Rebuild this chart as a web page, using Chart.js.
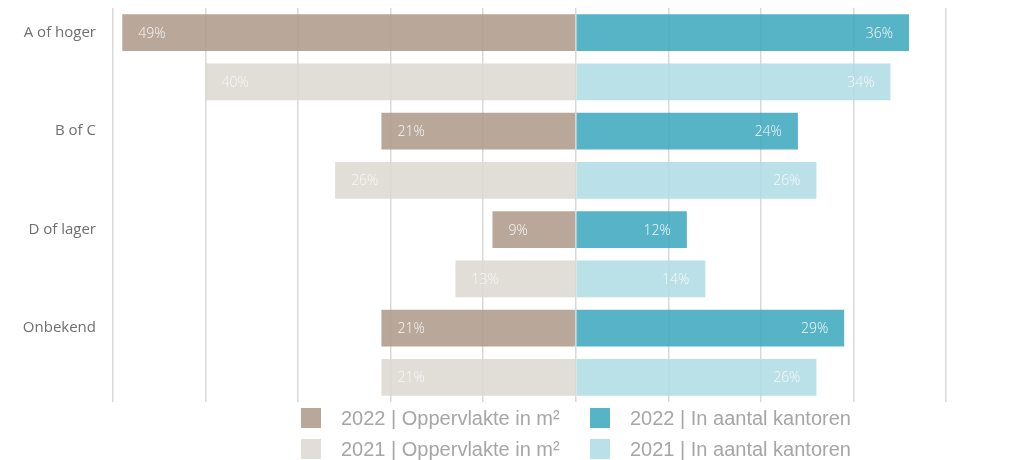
<!DOCTYPE html>
<html>
<head>
<meta charset="utf-8">
<script src="https://cdn.jsdelivr.net/npm/chart.js@4.4.0/dist/chart.umd.min.js"></script>
<style>
  html, body { margin: 0; padding: 0; background: #ffffff; }
  #wrap { position: relative; width: 1036px; height: 460px; overflow: hidden; }
  canvas { position: absolute; left: 0; top: 0; }
  .lg { position: absolute; font-family: "Liberation Sans", Arial, sans-serif; font-size: 20px; color: #a6a6a6; white-space: nowrap; line-height: 20px; }
  .bx { position: absolute; width: 20px; height: 20px; }
</style>
</head>
<body>
<div id="wrap">
  <canvas id="c" width="1036" height="460"></canvas>
  <div id="legend"></div>
</div>
<script>
// ---- data ----
const categories = ["A of hoger", "B of C", "D of lager", "Onbekend"];
const opp2022 = [49, 21, 9, 21];      // Oppervlakte in m² (%), 2022
const opp2021 = [40, 26, 13, 21];     // Oppervlakte in m² (%), 2021
const kant2022 = [36, 24, 12, 29];    // In aantal kantoren (%), 2022
const kant2021 = [34, 26, 14, 26];    // In aantal kantoren (%), 2021
const seriesNames = ["2022 | Oppervlakte in m²", "2022 | In aantal kantoren", "2021 | Oppervlakte in m²", "2021 | In aantal kantoren"];
const xTicks = [-50, -40, -30, -20, -10, 0, 10, 20, 30, 40];

const barColors = ["rgba(173,153,135,0.85)", "rgba(57,167,189,0.85)", "rgba(220,215,208,0.85)", "rgba(174,220,228,0.85)"];
const legendColors = ["#b9a899", "#57b4c7", "#e1ddd7", "#bae1e8"];

// rows: each category gets a 2022 row followed by a 2021 row
const rowLabels = [];
categories.forEach(c => { rowLabels.push(c); rowLabels.push(""); });
function rows(values, year, sign) {
  const out = [];
  values.forEach(v => {
    out.push(year === 2022 ? sign * v : null);
    out.push(year === 2021 ? sign * v : null);
  });
  return out;
}

const datasets = [
  { label: seriesNames[0], data: rows(opp2022, 2022, -1), backgroundColor: barColors[0] },
  { label: seriesNames[1], data: rows(kant2022, 2022, 1), backgroundColor: barColors[1] },
  { label: seriesNames[2], data: rows(opp2021, 2021, -1), backgroundColor: barColors[2] },
  { label: seriesNames[3], data: rows(kant2021, 2021, 1), backgroundColor: barColors[3] }
].map(d => Object.assign(d, { barPercentage: 0.75, categoryPercentage: 1, borderWidth: 0 }));

const valueLabels = {
  id: 'valueLabels',
  afterDraw(chart) {
    const ctx = chart.ctx;
    ctx.save();
    ctx.font = '300 14px "Open Sans", sans-serif';
    ctx.fillStyle = '#f7f7f7';
    ctx.textBaseline = 'middle';
    chart.data.datasets.forEach((ds, i) => {
      const meta = chart.getDatasetMeta(i);
      meta.data.forEach((el, j) => {
        const v = ds.data[j];
        if (v === null || v === undefined) return;
        const txt = Math.abs(v) + '%';
        if (v < 0) { ctx.textAlign = 'left'; ctx.fillText(txt, el.x + 16, el.y + 1); }
        else { ctx.textAlign = 'right'; ctx.fillText(txt, el.x - 16, el.y + 1); }
      });
    });
    ctx.restore();
  }
};

new Chart(document.getElementById('c'), {
  type: 'bar',
  data: { labels: rowLabels, datasets },
  options: {
    indexAxis: 'y',
    responsive: false,
    animation: false,
    layout: { padding: { top: 8, bottom: 58, left: 0, right: 90 } },
    plugins: { legend: { display: false }, tooltip: { enabled: false } },
    scales: {
      x: {
        stacked: true,
        min: xTicks[0], max: xTicks[xTicks.length - 1],
        afterBuildTicks(scale) { scale.ticks = xTicks.map(v => ({ value: v })); },
        ticks: { display: false },
        grid: { color: '#d9d9d9', lineWidth: 1.5, drawTicks: false },
        border: { display: false },
        afterFit(scale) { scale.height = 0; scale.paddingLeft = 0; scale.paddingRight = 0; }
      },
      y: {
        stacked: true,
        grid: { display: false, drawTicks: false },
        border: { display: false },
        ticks: { color: '#6f6f6f', font: { family: '"Open Sans", sans-serif', size: 15 }, padding: 17, autoSkip: false },
        afterFit(scale) { scale.width = 113; scale.paddingTop = 0; scale.paddingBottom = 0; }
      }
    }
  },
  plugins: [valueLabels]
});

// ---- legend (HTML) ----
const legend = document.getElementById('legend');
const pos = [[301, 408], [590, 408], [301, 439], [590, 439]];
seriesNames.forEach((name, i) => {
  const b = document.createElement('div');
  b.className = 'bx';
  b.style.left = pos[i][0] + 'px'; b.style.top = pos[i][1] + 'px';
  b.style.background = legendColors[i];
  legend.appendChild(b);
  const t = document.createElement('div');
  t.className = 'lg';
  t.textContent = name;
  t.style.left = (pos[i][0] + 40) + 'px'; t.style.top = (pos[i][1]) + 'px';
  legend.appendChild(t);
});
</script>
</body>
</html>
